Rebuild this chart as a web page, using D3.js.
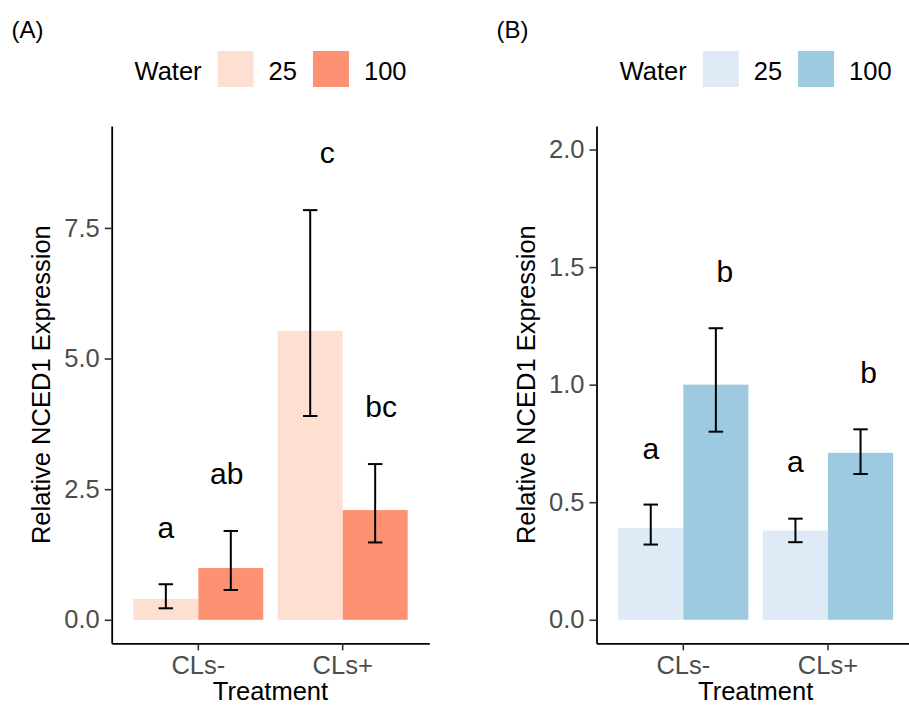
<!DOCTYPE html>
<html>
<head>
<meta charset="utf-8">
<script src="https://cdn.jsdelivr.net/npm/d3@7"></script>
<style>
body { margin: 0; background: #fff; }
text { font-family: "Liberation Sans", Arial, Helvetica, sans-serif; }
</style>
</head>
<body>
<div id="chart"></div>
<script>
// one row per bar: treatment x water
var treatments = ["CLs-", "CLs+"];
var waterLevels = ["25", "100"];
var rowTreatment = ["CLs-", "CLs-", "CLs+", "CLs+"];
var rowWater = ["25", "100", "25", "100"];

// panel A
var meanA = [0.40, 0.99, 5.53, 2.10];
var lowerA = [0.22, 0.57, 3.90, 1.48];
var upperA = [0.68, 1.70, 7.84, 2.98];
var lettersA = ["a", "ab", "c", "bc"];
var letterYA = [1.76, 2.80, 8.95, 4.08];
var ticksA = [0, 2.5, 5, 7.5];
var limitA = 9;

// panel B
var meanB = [0.39, 1.00, 0.38, 0.71];
var lowerB = [0.32, 0.80, 0.33, 0.62];
var upperB = [0.49, 1.24, 0.43, 0.81];
var lettersB = ["a", "b", "a", "b"];
var letterYB = [0.73, 1.48, 0.675, 1.053];
var ticksB = [0, 0.5, 1, 1.5, 2];
var limitB = 2;

var svgWidth = 909;
var svgHeight = 708;

var svg = d3.select("#chart")
    .append("svg")
    .attr("width", svgWidth)
    .attr("height", svgHeight);

var fontSize = 25.5;
var plotTop = 126, plotBottom = 643.3;

function drawPanel(p) {
    var g = svg.append("g");

    var x = d3.scaleBand()
        .domain(treatments)
        .range([p.left, p.right])
        .paddingInner(0.1)
        .paddingOuter(0.15);

    var xWater = d3.scaleBand()
        .domain(waterLevels)
        .range([0, x.bandwidth()]);

    var pad = p.limit * 0.05;
    var y = d3.scaleLinear()
        .domain([-pad, p.limit + pad])
        .range([plotBottom, plotTop]);

    var color = d3.scaleOrdinal().domain(waterLevels).range(p.colors);

    var rows = p.mean.map(function (m, i) {
        return {
            treatment: rowTreatment[i],
            water: rowWater[i],
            mean: m,
            lower: p.lower[i],
            upper: p.upper[i],
            letter: p.letters[i],
            letterY: p.letterY[i],
            nudge: p.nudge[i]
        };
    });

    function cx(d) {
        return x(d.treatment) + xWater(d.water) + xWater.bandwidth() / 2;
    }

    // bars
    g.selectAll("rect.bar")
        .data(rows)
        .enter()
        .append("rect")
        .attr("class", "bar")
        .attr("x", d => x(d.treatment) + xWater(d.water))
        .attr("width", xWater.bandwidth())
        .attr("y", d => y(d.mean))
        .attr("height", d => y(0) - y(d.mean))
        .attr("fill", d => color(d.water));

    // error bars
    var capHalf = x.step() * 0.05;
    var eb = g.selectAll("g.err")
        .data(rows)
        .enter()
        .append("g")
        .attr("class", "err")
        .attr("stroke", "#000")
        .attr("stroke-width", 2);
    eb.append("line")
        .attr("x1", cx).attr("x2", cx)
        .attr("y1", d => y(d.lower)).attr("y2", d => y(d.upper));
    eb.append("line")
        .attr("x1", d => cx(d) - capHalf).attr("x2", d => cx(d) + capHalf)
        .attr("y1", d => y(d.upper)).attr("y2", d => y(d.upper));
    eb.append("line")
        .attr("x1", d => cx(d) - capHalf).attr("x2", d => cx(d) + capHalf)
        .attr("y1", d => y(d.lower)).attr("y2", d => y(d.lower));

    // significance letters
    g.selectAll("text.letter")
        .data(rows)
        .enter()
        .append("text")
        .attr("class", "letter")
        .attr("x", d => cx(d) + d.nudge)
        .attr("y", d => y(d.letterY) + 30 * 0.35)
        .attr("text-anchor", "middle")
        .style("font-size", "30px")
        .attr("fill", "#000")
        .text(d => d.letter);

    // y axis
    var yAxis = d3.axisLeft(y)
        .tickValues(p.ticks)
        .tickFormat(d3.format(".1f"))
        .tickSize(7)
        .tickSizeOuter(0)
        .tickPadding(5);
    var ya = g.append("g")
        .attr("transform", `translate(${p.left}, 0)`)
        .call(yAxis);
    ya.select(".domain").attr("stroke", "#000").attr("stroke-width", 1.8);
    ya.selectAll(".tick line").attr("stroke", "#333").attr("stroke-width", 1.6);
    ya.selectAll(".tick text")
        .attr("fill", "#4d4d4d")
        .style("font-size", fontSize + "px");

    // x axis
    var xAxis = d3.axisBottom(x)
        .tickSize(7)
        .tickSizeOuter(0)
        .tickPadding(6);
    var xa = g.append("g")
        .attr("transform", `translate(0, ${plotBottom})`)
        .call(xAxis);
    xa.select(".domain").attr("stroke", "#000").attr("stroke-width", 1.8);
    xa.selectAll(".tick line").attr("stroke", "#333").attr("stroke-width", 1.6);
    xa.selectAll(".tick text")
        .attr("fill", "#4d4d4d")
        .style("font-size", fontSize + "px");

    var midX = (p.left + p.right) / 2;
    var midY = (plotTop + plotBottom) / 2;

    // axis titles
    g.append("text")
        .attr("x", midX)
        .attr("y", 700)
        .attr("text-anchor", "middle")
        .style("font-size", fontSize + "px")
        .text("Treatment");

    g.append("text")
        .attr("transform", `translate(${p.left - 62}, ${midY}) rotate(-90)`)
        .attr("text-anchor", "middle")
        .style("font-size", fontSize + "px")
        .text("Relative NCED1 Expression");

    // tag
    g.append("text")
        .attr("x", p.tagX)
        .attr("y", 38)
        .style("font-size", "24px")
        .text(p.tag);

    // legend
    var lg = g.append("g");
    var keySize = 36;
    var cursor = 0;
    var title = lg.append("text")
        .attr("x", 0).attr("y", 80)
        .style("font-size", fontSize + "px")
        .text("Water");
    cursor = title.node().getComputedTextLength() + 16;
    waterLevels.forEach(function (w, i) {
        lg.append("rect")
            .attr("x", cursor).attr("y", 51)
            .attr("width", keySize).attr("height", keySize)
            .attr("fill", color(w));
        cursor += keySize + 15;
        var t = lg.append("text")
            .attr("x", cursor).attr("y", 80)
            .style("font-size", fontSize + "px")
            .text(w);
        cursor += t.node().getComputedTextLength();
        if (i < waterLevels.length - 1) cursor += 16;
    });
    lg.attr("transform", `translate(${midX - cursor / 2}, 0)`);
}

drawPanel({
    left: 111.7, right: 429.3,
    mean: meanA, lower: lowerA, upper: upperA,
    letters: lettersA, letterY: letterYA,
    nudge: [0, -4, 17, 6],
    ticks: ticksA, limit: limitA,
    colors: ["#fee0d2", "#fc9272"],
    tag: "(A)", tagX: 11.5
});

drawPanel({
    left: 596.5, right: 914.8,
    mean: meanB, lower: lowerB, upper: upperB,
    letters: lettersB, letterY: letterYB,
    nudge: [0, 9, 0, 8],
    ticks: ticksB, limit: limitB,
    colors: ["#deebf7", "#9ecae1"],
    tag: "(B)", tagX: 496.5
});
</script>
</body>
</html>
